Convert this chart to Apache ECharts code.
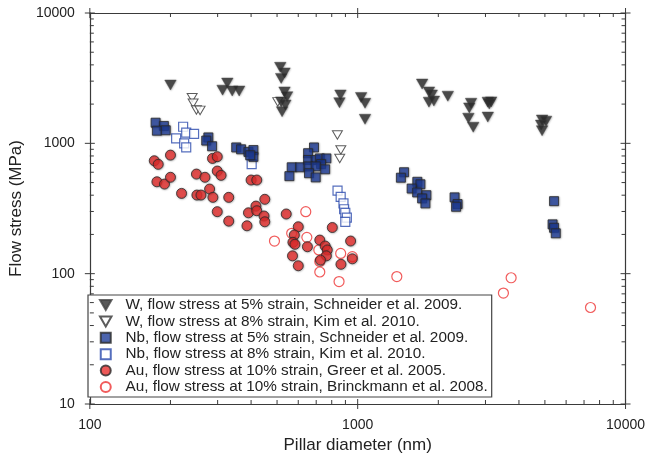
<!DOCTYPE html>
<html>
<head>
<meta charset="utf-8">
<script src="https://cdn.jsdelivr.net/npm/echarts@6/dist/echarts.min.js"></script>
<style>
  html, body { margin: 0; padding: 0; background: #fff; }
  #chart { width: 648px; height: 461px; }
</style>
</head>
<body>
<div id="chart"></div>
<script>
// [pillar diameter (nm), flow stress (MPa)]
const wSchneider = [
  [200, 2800], [326, 2900], [313, 2560], [340, 2520], [361, 2520],
  [514, 3830], [533, 3470], [518, 3150], [533, 2480], [545, 2280], [518, 2080], [537, 1970], [522, 1750],
  [862, 2350], [855, 2050], [1030, 2250], [1065, 2030], [1065, 1530],
  [1740, 2850], [1845, 2480], [1890, 2350], [1845, 2070], [1925, 2110], [2170, 2300],
  [2650, 2030], [2610, 1870], [2590, 1560], [2700, 1330],
  [3060, 2070], [3150, 2080], [3100, 2000], [3060, 1590],
  [4880, 1510], [5050, 1480], [4840, 1380], [4880, 1250]
];
const wKim = [
  [241, 2240], [243, 2030], [250, 1800], [258, 1790], [503, 2080],
  [840, 1160], [865, 890], [857, 765]
];
const nbSchneider = [
  [176, 1440], [189, 1360], [178, 1250], [192, 1260],
  [277, 1110], [272, 1050], [286, 950],
  [352, 930], [367, 900], [391, 860], [408, 888], [408, 788], [397, 810],
  [687, 930], [653, 840], [653, 745], [697, 745], [722, 766], [764, 766], [730, 693],
  [567, 655], [610, 655], [655, 665], [697, 665], [756, 632], [658, 590], [556, 560], [697, 548],
  [1490, 600], [1450, 545], [1670, 507], [1715, 485], [1590, 450], [1668, 420], [1805, 400], [1740, 378], [1790, 346],
  [2300, 385], [2360, 342], [2330, 326],
  [5410, 360], [5340, 239], [5410, 225], [5490, 204]
];
const nbKim = [
  [223, 1340], [210, 1090], [229, 1210], [245, 1180], [225, 1000], [229, 932], [402, 693],
  [841, 433], [864, 389], [885, 346], [890, 312], [899, 293], [911, 269], [899, 250]
];
const auGreer = [
  [174, 735], [180, 690], [200, 812], [178, 507], [190, 487], [200, 549], [220, 413],
  [250, 581], [269, 549], [251, 401], [260, 401], [280, 446], [288, 385], [330, 385],
  [299, 299], [330, 253], [287, 766], [299, 790], [299, 613], [309, 568],
  [400, 523], [420, 523], [450, 372], [417, 330], [391, 293], [420, 304], [447, 277], [450, 250], [386, 233],
  [541, 287], [600, 229], [580, 198], [573, 174], [583, 168], [649, 161], [571, 137], [600, 115],
  [722, 181], [756, 163], [770, 152], [764, 137], [726, 127], [804, 226], [941, 178], [866, 118], [955, 130]
];
const auBrinckmann = [
  [640, 299], [489, 178], [567, 204], [646, 190], [716, 152], [864, 143], [722, 124],
  [955, 135], [722, 103], [852, 87], [1400, 95], [3740, 93], [3500, 71], [7400, 55]
];

const seriesNames = [
  'W, flow stress at 5% strain, Schneider et al. 2009.',
  'W, flow stress at 8% strain, Kim et al. 2010.',
  'Nb, flow stress at 5% strain, Schneider et al. 2009.',
  'Nb, flow stress at 8% strain, Kim et al. 2010.',
  'Au, flow stress at 10% strain, Greer et al. 2005.',
  'Au, flow stress at 10% strain, Brinckmann et al. 2008.'
];

// tick values for the log axes
const X_MIN = 100, X_MAX = 10000, Y_MIN = 10, Y_MAX = 10000;
const majorX = [100, 1000, 10000];
const minorX = [200, 300, 400, 500, 600, 700, 800, 900, 2000, 3000, 4000, 5000, 6000, 7000, 8000, 9000];
const majorY = [10, 100, 1000, 10000];
const minorY = [20, 30, 40, 50, 60, 70, 80, 90, 200, 300, 400, 500, 600, 700, 800, 900,
  2000, 3000, 4000, 5000, 6000, 7000, 8000, 9000];

const FONT = '"Liberation Sans", Arial, sans-serif';
const AXIS_COLOR = '#3a3a3a';
const downTriangle = 'path://M0,0L10,0L5,8.66Z';
const square = 'path://M0,0L10,0L10,10L0,10Z';

function tickLine(x1, y1, x2, y2) {
  return {
    type: 'line',
    shape: { x1: x1, y1: y1, x2: x2, y2: y2 },
    style: { stroke: AXIS_COLOR, lineWidth: 1 }
  };
}

// ticks on bottom and top edges, major ones cross the frame
function renderXTick(params, api) {
  const v = api.value(0);
  const major = majorX.indexOf(v) >= 0;
  const b = api.coord([v, Y_MIN]);
  const t = api.coord([v, Y_MAX]);
  const inLen = major ? 5 : 4;
  const outLen = major ? 5 : 0;
  return {
    type: 'group',
    children: [
      tickLine(b[0], b[1] + outLen, b[0], b[1] - inLen),
      tickLine(t[0], t[1] - outLen, t[0], t[1] + inLen)
    ]
  };
}

function renderYTick(params, api) {
  const v = api.value(1);
  const major = majorY.indexOf(v) >= 0;
  const l = api.coord([X_MIN, v]);
  const r = api.coord([X_MAX, v]);
  const inLen = major ? 5 : 4;
  const outLen = major ? 5 : 0;
  return {
    type: 'group',
    children: [
      tickLine(l[0] - outLen, l[1], l[0] + inLen, l[1]),
      tickLine(r[0] + outLen, r[1], r[0] - inLen, r[1])
    ]
  };
}

function logAxis(min, max, position, showLabel) {
  return {
    type: 'log',
    logBase: 10,
    min: min,
    max: max,
    position: position,
    splitLine: { show: false },
    axisTick: { show: false },
    minorTick: { show: false },
    axisLine: { show: true, onZero: false, lineStyle: { color: AXIS_COLOR, width: 1.2 } },
    axisLabel: {
      show: showLabel,
      color: '#222',
      fontFamily: FONT,
      fontSize: 14,
      margin: 15,
      formatter: (v) => String(Math.round(v))
    }
  };
}

const chart = echarts.init(document.getElementById('chart'), null, { renderer: 'canvas' });

const xBottom = logAxis(X_MIN, X_MAX, 'bottom', true);
xBottom.name = 'Pillar diameter (nm)';
xBottom.nameLocation = 'middle';
xBottom.nameGap = 31;
xBottom.nameTextStyle = { color: '#222', fontFamily: FONT, fontSize: 17 };
xBottom.axisLabel.margin = 14;

const yLeft = logAxis(Y_MIN, Y_MAX, 'left', true);
yLeft.name = 'Flow stress (MPa)';
yLeft.nameLocation = 'middle';
yLeft.nameGap = 54;
yLeft.nameTextStyle = { color: '#222', fontFamily: FONT, fontSize: 17 };

const filledShadow = {
  shadowColor: 'rgba(0,0,0,0.35)',
  shadowBlur: 2,
  shadowOffsetX: 0.5,
  shadowOffsetY: 0.5
};

const option = {
  animation: false,
  backgroundColor: '#fff',
  grid: { left: 82, right: 21, top: 13, bottom: 57, containLabel: false },
  xAxis: [xBottom, logAxis(X_MIN, X_MAX, 'top', false)],
  yAxis: [yLeft, logAxis(Y_MIN, Y_MAX, 'right', false)],
  legend: {
    orient: 'vertical',
    left: 88,
    top: 295,
    padding: [2, 4, 2, 11],
    itemWidth: 11.5,
    itemHeight: 10,
    itemGap: 0.4,
    backgroundColor: '#fff',
    borderColor: '#444',
    borderWidth: 1.2,
    borderRadius: 0,
    formatter: (name) => '{t|' + name + '}',
    textStyle: {
      color: '#222', fontFamily: FONT, fontSize: 15.3, lineHeight: 16,
      rich: { t: { color: '#222', fontFamily: FONT, fontSize: 15.3, lineHeight: 16, padding: [0, 0, 0, 9] } }
    },
    data: [
      { name: seriesNames[0], icon: downTriangle },
      { name: seriesNames[1], icon: downTriangle },
      { name: seriesNames[2], icon: square },
      { name: seriesNames[3], icon: square },
      { name: seriesNames[4], icon: 'circle' },
      { name: seriesNames[5], icon: 'circle' }
    ]
  },
  series: [
    {
      name: seriesNames[0], type: 'scatter', data: wSchneider,
      symbol: downTriangle, symbolSize: [11.5, 10], z: 3,
      itemStyle: Object.assign({ color: '#2e2e2e', borderColor: '#444', borderWidth: 0.5 }, filledShadow)
    },
    {
      name: seriesNames[1], type: 'scatter', data: wKim,
      symbol: downTriangle, symbolSize: [10, 8.5], z: 2,
      itemStyle: { color: '#fff', borderColor: '#333', borderWidth: 1 }
    },
    {
      name: seriesNames[2], type: 'scatter', data: nbSchneider,
      symbol: square, symbolSize: 9, z: 3,
      itemStyle: Object.assign({ color: '#1f3d98', borderColor: '#2a2a2a', borderWidth: 1 }, filledShadow)
    },
    {
      name: seriesNames[3], type: 'scatter', data: nbKim,
      symbol: square, symbolSize: 9, z: 2,
      itemStyle: { color: '#fff', borderColor: '#2b4aad', borderWidth: 1.2 }
    },
    {
      name: seriesNames[4], type: 'scatter', data: auGreer,
      symbol: 'circle', symbolSize: 10, z: 3,
      itemStyle: Object.assign({ color: '#e8302e', borderColor: '#2a2a2a', borderWidth: 1 }, filledShadow)
    },
    {
      name: seriesNames[5], type: 'scatter', data: auBrinckmann,
      symbol: 'circle', symbolSize: 10, z: 2,
      itemStyle: { color: '#fff', borderColor: '#ee3333', borderWidth: 1.2 }
    },
    {
      type: 'custom', name: 'xticks', silent: true, clip: false, z: 5,
      renderItem: renderXTick,
      data: majorX.concat(minorX).map((v) => [v, Y_MIN])
    },
    {
      type: 'custom', name: 'yticks', silent: true, clip: false, z: 5,
      renderItem: renderYTick,
      data: majorY.concat(minorY).map((v) => [X_MIN, v])
    }
  ]
};

chart.setOption(option);
</script>
</body>
</html>
